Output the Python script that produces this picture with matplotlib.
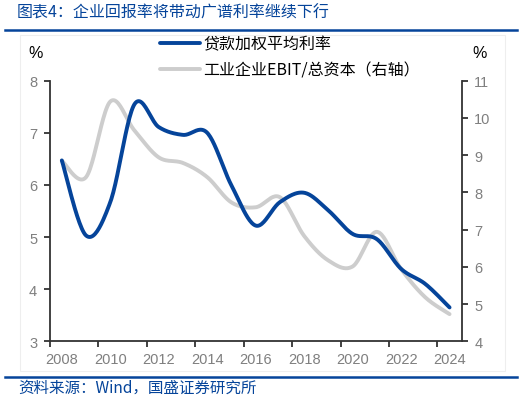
import matplotlib
matplotlib.use("Agg")
import matplotlib.pyplot as plt
import numpy as np
from matplotlib.lines import Line2D
from matplotlib.patches import Rectangle

plt.rcParams["font.family"] = ["Liberation Sans", "Noto Sans CJK SC", "DejaVu Sans"]

years = list(range(2008, 2025))
loan_rate = [6.47, 5.03, 5.67, 7.55, 7.11, 6.96, 7.0, 5.99, 5.22, 5.67,
             5.85, 5.51, 5.06, 4.96, 4.39, 4.1, 3.65]
ebit_ratio = [8.85, 8.41, 10.44, 9.66, 8.94, 8.79, 8.41, 7.73, 7.6, 7.87,
              6.83, 6.17, 6.01, 6.94, 5.94, 5.18, 4.73]

label_loan = "贷款加权平均利率"
label_ebit = "工业企业EBIT/总资本（右轴）"
title = "图表4：企业回报率将带动广谱利率继续下行"
source = "资料来源：Wind，国盛证券研究所"

BLUE = "#05449a"
GRAY = "#cdcdcd"
TICK_GRAY = "#7f7f7f"
AXIS = "#333333"
CJK = ["Noto Sans CJK SC", "DejaVu Sans"]


def smooth(x, y, n=24):
    """Excel-style smoothed line (Catmull-Rom through the data points)."""
    x = np.asarray(x, float)
    y = np.asarray(y, float)
    px = np.concatenate([[x[0]], x, [x[-1]]])
    py = np.concatenate([[y[0]], y, [y[-1]]])
    xs, ys = [], []
    t = np.linspace(0, 1, n, endpoint=False)
    for i in range(1, len(px) - 2):
        for arr, out in ((px, xs), (py, ys)):
            p0, p1, p2, p3 = arr[i - 1], arr[i], arr[i + 1], arr[i + 2]
            c1 = p1 + (p2 - p0) / 6
            c2 = p2 - (p3 - p1) / 6
            out.extend((1 - t) ** 3 * p1 + 3 * (1 - t) ** 2 * t * c1
                       + 3 * (1 - t) * t ** 2 * c2 + t ** 3 * p2)
    xs.append(x[-1])
    ys.append(y[-1])
    return np.array(xs), np.array(ys)


fig = plt.figure(figsize=(5.26, 4.02), dpi=100)
ax = fig.add_axes([0.0945, 0.1485, 0.7832, 0.6483])
ax2 = ax.twinx()

# gray series first so the blue one sits on top
gx, gy = smooth(years, ebit_ratio)
ax2.plot(gx, gy, color=GRAY, lw=2.8, solid_capstyle="round", zorder=2)
bx, by = smooth(years, loan_rate)
ax.plot(bx, by, color=BLUE, lw=2.8, solid_capstyle="round", zorder=3)
ax.set_zorder(ax2.get_zorder() + 1)
ax.patch.set_visible(False)

ax.set_xlim(2007.5, 2024.5)
ax.set_ylim(3, 8)
ax2.set_ylim(4, 11)
ax.set_yticks(range(3, 9))
ax2.set_yticks(range(4, 12))
ax.set_xticks(years[::2])
ax.set_xticks(np.arange(2007.5, 2024, 2), minor=True)

ax.tick_params(axis="x", which="major", length=0, pad=8, labelsize=10.5, labelcolor=TICK_GRAY)
ax.tick_params(axis="x", which="minor", length=4, width=1.3, color=AXIS, direction="out")
ax.tick_params(axis="y", length=4, width=1.3, color=AXIS, pad=5, labelsize=10.5, labelcolor=TICK_GRAY)
ax2.tick_params(axis="y", length=4, width=1.3, color=AXIS, pad=5, labelsize=10.5, labelcolor=TICK_GRAY)

for a in (ax, ax2):
    for side in ("top", "right", "left", "bottom"):
        a.spines[side].set_visible(False)
ax.spines["left"].set_visible(True)
ax.spines["bottom"].set_visible(True)
ax2.spines["right"].set_visible(True)
for sp in (ax.spines["left"], ax.spines["bottom"], ax2.spines["right"]):
    sp.set_color(AXIS)
    sp.set_linewidth(1.3)

fig.text(36 / 526, 1 - 53 / 402, "%", ha="center", va="center", fontsize=11.5, color="black")
fig.text(480 / 526, 1 - 53 / 402, "%", ha="center", va="center", fontsize=11.5, color="black")

handles = [Line2D([], [], color=BLUE, lw=2.8, solid_capstyle="round"),
           Line2D([], [], color=GRAY, lw=2.8, solid_capstyle="round")]
fig.legend(handles, [label_loan, label_ebit], loc="upper left",
           bbox_to_anchor=(153.5 / 526, 1 - 30 / 402), frameon=False,
           prop={"family": CJK, "size": 11.5},
           handlelength=2.5, handletextpad=0.2, labelspacing=0.6, borderaxespad=0)

# title, rules, faint frame and source line
fig.text(17 / 526, 1 - 13 / 402, title, ha="left", va="center", fontsize=11.5,
         color=BLUE, family=CJK)
fig.add_artist(Line2D([5 / 526, 517 / 526], [1 - 31 / 402] * 2, color=BLUE, lw=1.8))
fig.add_artist(Line2D([5 / 526, 517 / 526], [1 - 377.7 / 402] * 2, color=BLUE, lw=1.8))
fig.add_artist(Rectangle((20 / 526, 1 - 372 / 402), 485 / 526, 336 / 402,
                         transform=fig.transFigure, fill=False, ec="#eeeeee", lw=0.8))
fig.text(18 / 526, 1 - 388.5 / 402, source, ha="left", va="center", fontsize=11.2,
         color=BLUE, family=CJK)

fig.savefig("out.png", dpi=100)
